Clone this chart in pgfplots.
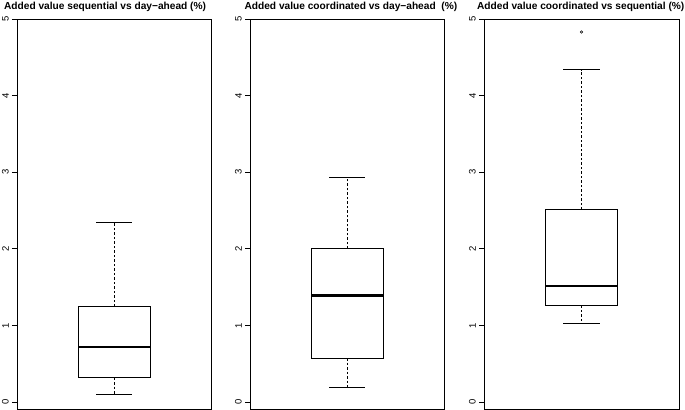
\documentclass[border=0pt]{standalone}
\usepackage{pgfplots}
\pgfplotsset{compat=1.18}
\usepgfplotslibrary{statistics}
\usepackage{fontspec}
\setmainfont{Liberation Sans}
\pgfplotsset{
  boxplot/draw/whisker/.code 2 args={%
    \draw[black, line width=0.6bp, dash pattern=on 2.5bp off 2bp] (boxplot cs:#1) -- (boxplot cs:#2);
    \draw[black, line width=0.6bp] (boxplot whisker cs:#2,0) -- (boxplot whisker cs:#2,1);
  },
  every axis title/.style={font=\fontsize{10.2}{12}\selectfont\bfseries, anchor=base, inner sep=0pt, yshift=9bp},
  rbox/.style={
    scale only axis, width=194bp, height=390bp,
    anchor=south west,
    xmin=0.46, xmax=1.54, ymin=-0.0914, ymax=5.0,
    xtick=\empty, ytick={0,1,2,3,4,5},
    tick align=outside, ytick pos=left,
    major tick length=5bp,
    every tick/.style={black, line width=0.6bp},
    axis line style={black, line width=0.75bp},
    tick label style={font=\fontsize{9.5}{11}\selectfont},
    /pgf/number format/assume math mode=true,
    yticklabel style={xshift=-3bp, rotate=90, anchor=south, inner sep=0pt},
    boxplot/draw direction=y,
    boxplot/box extend=0.4,
    boxplot/whisker extend=0.2,
    boxplot/every box/.style={draw=black, line width=0.6bp},
    boxplot/every median/.style={draw=black, line width=2.3bp},
    clip=false,
  },
  rplot/.style={black, mark=o, mark size=1.3bp, every mark/.append style={line width=0.5bp, solid}},
}
\begin{document}
\begin{tikzpicture}
\begin{axis}[rbox, at={(17bp,1bp)},
  title={Added value sequential vs day\textminus ahead (\%)},
  title style={at={(axis description cs:0.454,1)}}]
\addplot[rplot, boxplot prepared={draw position=1,
  lower whisker=0.10, lower quartile=0.317, median=0.714,
  upper quartile=1.244, upper whisker=2.34}] coordinates {};
\end{axis}
\begin{axis}[rbox, at={(250bp,1bp)},
  title={Added value coordinated vs day\textminus ahead\ \ (\%)},
  title style={at={(axis description cs:0.52,1)}}]
\addplot[rplot, boxplot prepared={draw position=1,
  lower whisker=0.187, lower quartile=0.574, median=1.39,
  upper quartile=2.0, upper whisker=2.93}] coordinates {};
\end{axis}
\begin{axis}[rbox, at={(484bp,1bp)}, width=195bp,
  title={Added value coordinated vs sequential (\%)},
  title style={at={(axis description cs:0.496,1)}}]
\addplot[rplot, boxplot prepared={draw position=1,
  lower whisker=1.027, lower quartile=1.262, median=1.514,
  upper quartile=2.51, upper whisker=4.34}] coordinates {(0,4.83)};
\end{axis}
\pgfresetboundingbox
\path[use as bounding box] (0,0) rectangle (685bp,410bp);
\end{tikzpicture}
\end{document}
